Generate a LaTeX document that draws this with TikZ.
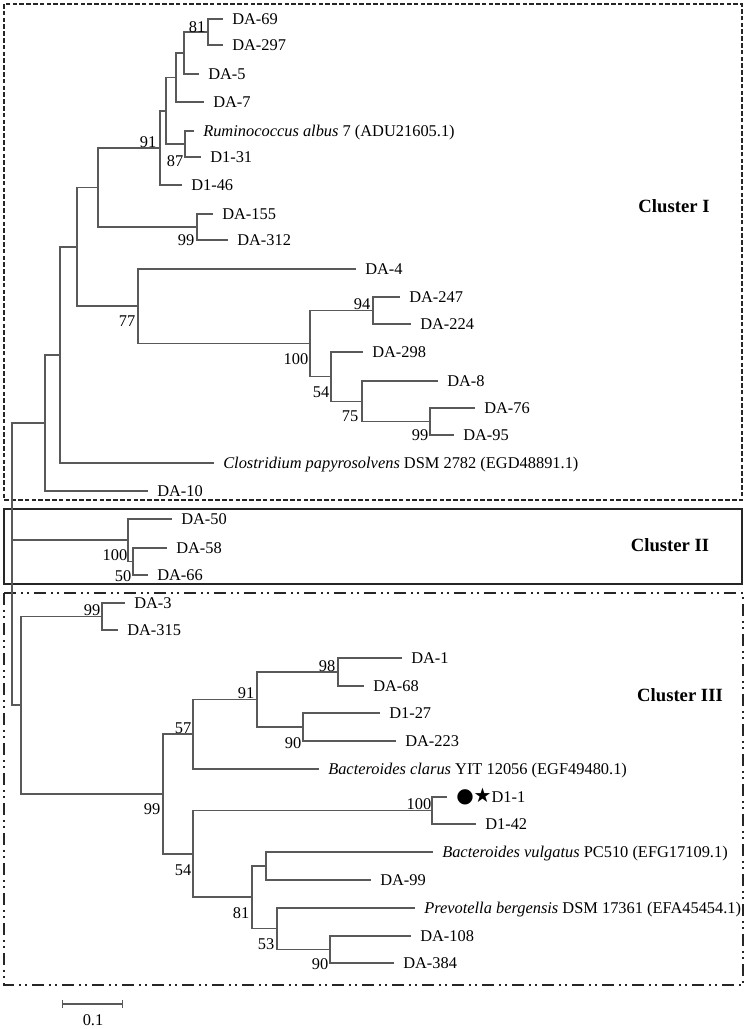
\documentclass[tikz,border=0pt]{standalone}
\usepackage{fontspec}
\setmainfont{Liberation Serif}
\newfontfamily\symfont{DejaVu Sans}
\usepackage{tikz}
\usetikzlibrary{arrows.meta}
\tikzset{
  % --- tree -------------------------------------------------------------
  branch/.style  ={draw=black!65, line width=0.8pt},
  leaf/.style    ={anchor=west, inner ysep=0pt, inner xsep=6.75pt,
                   text height=8.1pt, text depth=0pt, font=\fontsize{12.3}{14}\selectfont},
  boot/.style    ={inner sep=0pt, text height=8.1pt, text depth=0pt,
                   font=\fontsize{12.3}{14}\selectfont},
  % --- cluster frames ---------------------------------------------------
  frameI/.style  ={draw=black!85, line width=1.4pt, dash pattern=on 3.5pt off 1.6pt},
  frameII/.style ={draw=black!85, line width=1.5pt},
  frameIII/.style={draw=black!85, line width=1.5pt,
                   dash pattern=on 9pt off 3.5pt on 1.5pt off 3.5pt on 1.5pt off 3.5pt},
  clab/.style    ={inner sep=0pt, text height=9.3pt, text depth=0pt,
                   font=\fontsize{14}{16}\selectfont\bfseries},
  % --- scale bar --------------------------------------------------------
  scalebar/.style={branch, {Bar[width=6pt]}-{Bar[width=6pt]}},
}

\begin{document}
\begin{tikzpicture}[x=0.75pt, y=-0.75pt]
  \useasboundingbox (0,0) rectangle (748,1029);

  % ============================= frames =============================
  \draw[frameI]   (4,4)   rectangle (742,500);
  \draw[frameII]  (4,509) rectangle (742,584);
  \draw[frameIII] (4,593) rectangle (743,985);
  \node[clab] (cI)   at (674,206) {Cluster I};
  \node[clab] (cII)  at (670,545) {Cluster II};
  \node[clab] (cIII) at (680,695) {Cluster III};

  % ============================= internal nodes =============================
  \coordinate (root)   at (12,540);
  % cluster I
  \coordinate (c1root) at (45,423);
  \coordinate (c1g)    at (60,355);
  \coordinate (c1f)    at (77,247);
  \coordinate (c1e)    at (98,187.5);
  \coordinate (c1n91)  at (160,148);
  \coordinate (c1b)    at (166,111);
  \coordinate (c1c)    at (176,77.5);
  \coordinate (c1d)    at (184,53);
  \coordinate (c1n81)  at (208,32);
  \coordinate (c1n87)  at (185,144);
  \coordinate (c1n99a) at (197,227);
  \coordinate (c1n77)  at (138,306);
  \coordinate (c1n100) at (310,343.5);
  \coordinate (c1n94)  at (373,310.5);
  \coordinate (c1n54)  at (331,376.5);
  \coordinate (c1n75)  at (362,401.5);
  \coordinate (c1n99b) at (430,421.5);
  % cluster II
  \coordinate (c2n100) at (128,540);
  \coordinate (c2n50)  at (133,561.5);
  % cluster III
  \coordinate (c3root) at (21,705);
  \coordinate (c3n99a) at (102,616.5);
  \coordinate (c3n99b) at (163,794);
  \coordinate (c3n57)  at (193,734);
  \coordinate (c3n91)  at (257,699.5);
  \coordinate (c3n98)  at (338,672);
  \coordinate (c3n90a) at (303,727);
  \coordinate (c3n54)  at (193,854);
  \coordinate (c3n100) at (432,810.5);
  \coordinate (c3n81)  at (252,897);
  \coordinate (c3nbv)  at (266,866);
  \coordinate (c3n53)  at (277,928.75);
  \coordinate (c3n90b) at (330,949.5);

  % ============================= leaves =============================
  % cluster I
  \node[leaf] (da69)   at (223,19)  {DA-69};
  \node[leaf] (da297)  at (223,45)  {DA-297};
  \node[leaf] (da5)    at (199,74)  {DA-5};
  \node[leaf] (da7)    at (204,102) {DA-7};
  \node[leaf] (ralbus) at (194,131) {\textit{Ruminococcus albus} 7 (ADU21605.1)};
  \node[leaf] (d131)   at (201,157) {D1-31};
  \node[leaf] (d146)   at (182,185) {D1-46};
  \node[leaf] (da155)  at (213,214) {DA-155};
  \node[leaf] (da312)  at (228,240) {DA-312};
  \node[leaf] (da4)    at (356,269) {DA-4};
  \node[leaf] (da247)  at (400,297) {DA-247};
  \node[leaf] (da224)  at (411,324) {DA-224};
  \node[leaf] (da298)  at (363,352) {DA-298};
  \node[leaf] (da8)    at (438,381) {DA-8};
  \node[leaf] (da76)   at (475,408) {DA-76};
  \node[leaf] (da95)   at (454,435) {DA-95};
  \node[leaf] (cpapy)  at (214,463) {\textit{Clostridium papyrosolvens} DSM 2782 (EGD48891.1)};
  \node[leaf] (da10)   at (148,491) {DA-10};
  % cluster II
  \node[leaf] (da50)   at (172,519) {DA-50};
  \node[leaf] (da58)   at (167,548) {DA-58};
  \node[leaf] (da66)   at (148,575) {DA-66};
  % cluster III
  \node[leaf] (da3)    at (125,603) {DA-3};
  \node[leaf] (da315)  at (118,630) {DA-315};
  \node[leaf] (da1)    at (402,658) {DA-1};
  \node[leaf] (da68)   at (364,686) {DA-68};
  \node[leaf] (d127)   at (380,713) {D1-27};
  \node[leaf] (da223)  at (396,741) {DA-223};
  \node[leaf] (bclar)  at (319,769) {\textit{Bacteroides clarus} YIT 12056 (EGF49480.1)};
  \node[leaf] (d11)    at (447,797) {{\symfont\fontsize{15}{15}\selectfont ●★}D1-1};
  \node[leaf] (d142)   at (476,824) {D1-42};
  \node[leaf] (bvulg)  at (433,852) {\textit{Bacteroides vulgatus} PC510 (EFG17109.1)};
  \node[leaf] (da99)   at (371,880) {DA-99};
  \node[leaf] (pberg)  at (415,908) {\textit{Prevotella bergensis} DSM 17361 (EFA45454.1)};
  \node[leaf] (da108)  at (411,936) {DA-108};
  \node[leaf] (da384)  at (394,963) {DA-384};

  % ============================= branches =============================
  \draw[branch] (root) |- (c1root);
  \draw[branch] (root) -- (c2n100);
  \draw[branch] (root) |- (c3root);
  % cluster I
  \draw[branch] (c1root) |- (c1g);   \draw[branch] (c1root) |- (da10.west);
  \draw[branch] (c1g) |- (c1f);      \draw[branch] (c1g) |- (cpapy.west);
  \draw[branch] (c1f) |- (c1e);      \draw[branch] (c1f) |- (c1n77);
  \draw[branch] (c1e) |- (c1n91);    \draw[branch] (c1e) |- (c1n99a);
  \draw[branch] (c1n91) |- (c1b);    \draw[branch] (c1n91) |- (d146.west);
  \draw[branch] (c1b) |- (c1c);      \draw[branch] (c1b) |- (c1n87);
  \draw[branch] (c1c) |- (c1d);      \draw[branch] (c1c) |- (da7.west);
  \draw[branch] (c1d) |- (c1n81);    \draw[branch] (c1d) |- (da5.west);
  \draw[branch] (c1n81) |- (da69.west);  \draw[branch] (c1n81) |- (da297.west);
  \draw[branch] (c1n87) |- (ralbus.west); \draw[branch] (c1n87) |- (d131.west);
  \draw[branch] (c1n99a) |- (da155.west); \draw[branch] (c1n99a) |- (da312.west);
  \draw[branch] (c1n77) |- (da4.west);    \draw[branch] (c1n77) |- (c1n100);
  \draw[branch] (c1n100) |- (c1n94);      \draw[branch] (c1n100) |- (c1n54);
  \draw[branch] (c1n94) |- (da247.west);  \draw[branch] (c1n94) |- (da224.west);
  \draw[branch] (c1n54) |- (da298.west);  \draw[branch] (c1n54) |- (c1n75);
  \draw[branch] (c1n75) |- (da8.west);    \draw[branch] (c1n75) |- (c1n99b);
  \draw[branch] (c1n99b) |- (da76.west);  \draw[branch] (c1n99b) |- (da95.west);
  % cluster II
  \draw[branch] (c2n100) |- (da50.west);  \draw[branch] (c2n100) |- (c2n50);
  \draw[branch] (c2n50) |- (da58.west);   \draw[branch] (c2n50) |- (da66.west);
  % cluster III
  \draw[branch] (c3root) |- (c3n99a);     \draw[branch] (c3root) |- (c3n99b);
  \draw[branch] (c3n99a) |- (da3.west);   \draw[branch] (c3n99a) |- (da315.west);
  \draw[branch] (c3n99b) |- (c3n57);      \draw[branch] (c3n99b) |- (c3n54);
  \draw[branch] (c3n57) |- (c3n91);       \draw[branch] (c3n57) |- (bclar.west);
  \draw[branch] (c3n91) |- (c3n98);       \draw[branch] (c3n91) |- (c3n90a);
  \draw[branch] (c3n98) |- (da1.west);    \draw[branch] (c3n98) |- (da68.west);
  \draw[branch] (c3n90a) |- (d127.west);  \draw[branch] (c3n90a) |- (da223.west);
  \draw[branch] (c3n54) |- (c3n100);      \draw[branch] (c3n54) |- (c3n81);
  \draw[branch] (c3n100) |- (d11.west);   \draw[branch] (c3n100) |- (d142.west);
  \draw[branch] (c3n81) |- (c3nbv);       \draw[branch] (c3n81) |- (c3n53);
  \draw[branch] (c3nbv) |- (bvulg.west);  \draw[branch] (c3nbv) |- (da99.west);
  \draw[branch] (c3n53) |- (pberg.west);  \draw[branch] (c3n53) |- (c3n90b);
  \draw[branch] (c3n90b) |- (da108.west); \draw[branch] (c3n90b) |- (da384.west);

  % ============================= bootstrap values =============================
  \node[boot] (b1a) at (197,27)  {81};
  \node[boot] (b1b) at (148,142) {91};
  \node[boot] (b1c) at (175,161) {87};
  \node[boot] (b1d) at (186,240) {99};
  \node[boot] (b1e) at (127,321) {77};
  \node[boot] (b1f) at (362,304) {94};
  \node[boot] (b1g) at (296,359) {100};
  \node[boot] (b1h) at (321,392) {54};
  \node[boot] (b1i) at (350,416) {75};
  \node[boot] (b1j) at (420,435) {99};
  \node[boot] (b2a) at (115,555) {100};
  \node[boot] (b2b) at (123,576) {50};
  \node[boot] (b3a) at (92,610)  {99};
  \node[boot] (b3b) at (327,666) {98};
  \node[boot] (b3c) at (246,693) {91};
  \node[boot] (b3d) at (183,728) {57};
  \node[boot] (b3e) at (293,743) {90};
  \node[boot] (b3f) at (152,809) {99};
  \node[boot] (b3g) at (419,804) {100};
  \node[boot] (b3h) at (183,870) {54};
  \node[boot] (b3i) at (241,913) {81};
  \node[boot] (b3j) at (266,944) {53};
  \node[boot] (b3k) at (320,964) {90};

  % ============================= scale bar =============================
  \coordinate (sbl) at (62,1004);
  \coordinate (sbr) at (123,1004);
  \draw[scalebar] (sbl) -- (sbr);
  \node[boot] (sblab) at (93,1020) {0.1};

\end{tikzpicture}
\end{document}
